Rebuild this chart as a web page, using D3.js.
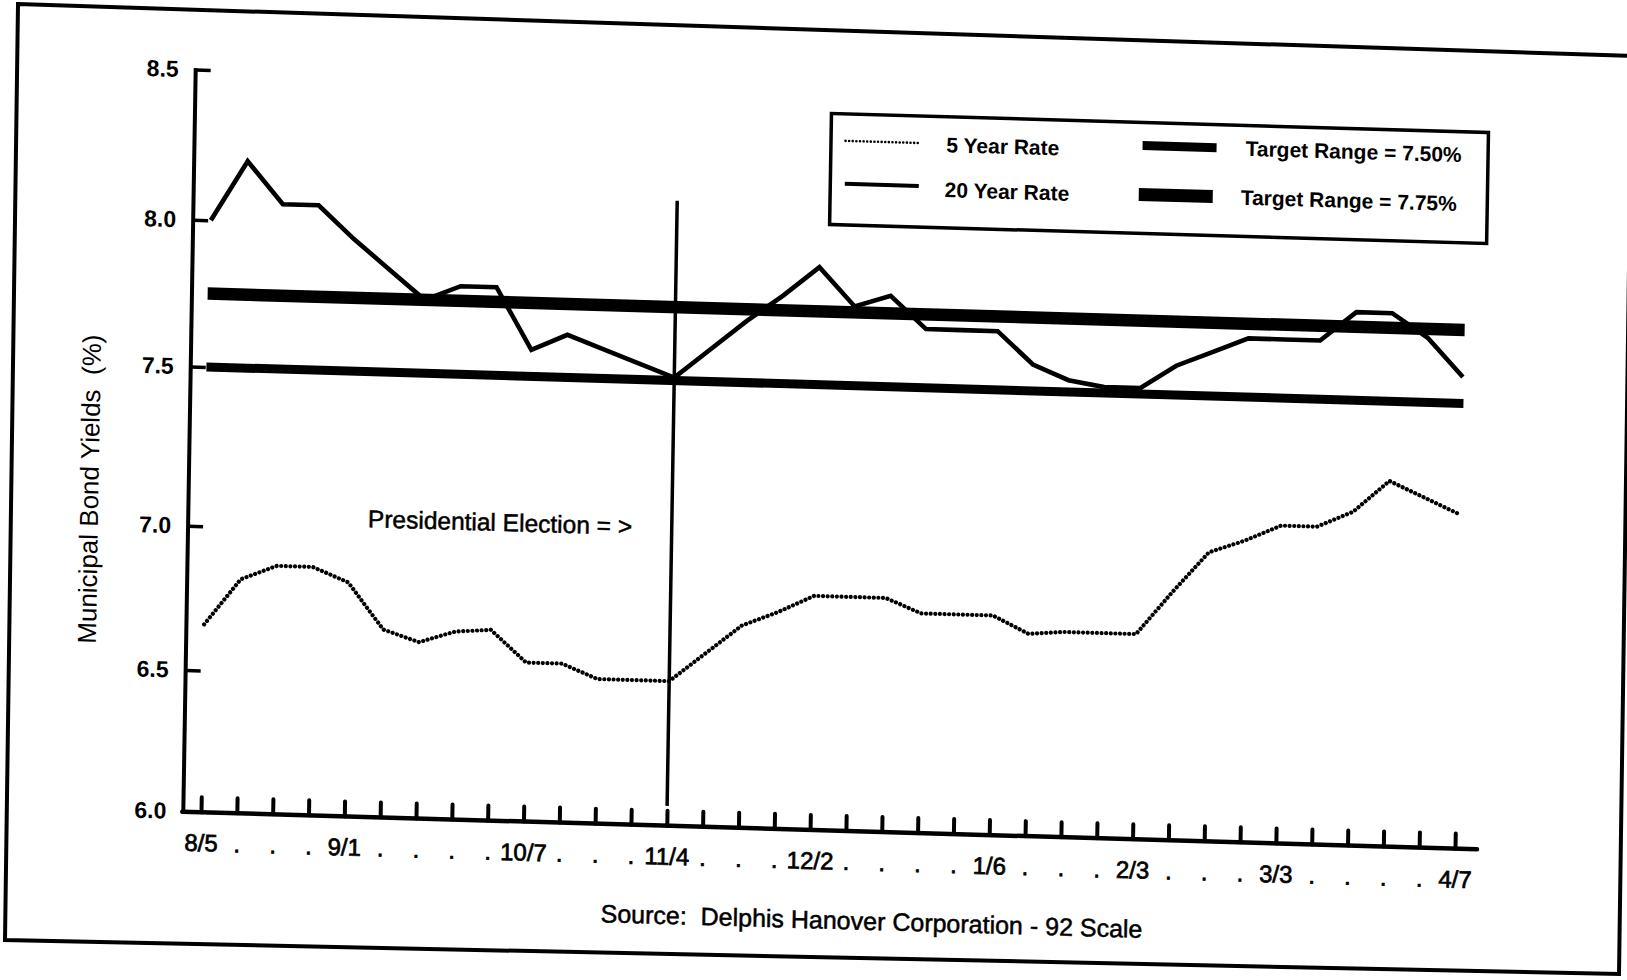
<!DOCTYPE html>
<html>
<head>
<meta charset="utf-8">
<script src="https://cdnjs.cloudflare.com/ajax/libs/d3/7.8.5/d3.min.js"></script>
<style>
  html, body { margin: 0; padding: 0; background: #fff; }
  svg { display: block; }
  text { font-family: "Liberation Sans", Arial, Helvetica, sans-serif; fill: #000; white-space: pre; }
</style>
</head>
<body>
<svg id="chart" width="1627" height="980"></svg>
<script>
// Weekly observations, 8/5 through 4/7 (dots mark the unlabeled weeks)
const weekLabels = ["8/5", ".", ".", ".", "9/1", ".", ".", ".", ".", "10/7", ".", ".", ".", "11/4",
  ".", ".", ".", "12/2", ".", ".", ".", ".", "1/6", ".", ".", ".", "2/3", ".", ".", ".", "3/3",
  ".", ".", ".", ".", "4/7"];

// Municipal bond yields (%)
const rate5 = [6.66, 6.82, 6.87, 6.87, 6.82, 6.66, 6.62, 6.66, 6.67, 6.56, 6.56, 6.51, 6.51, 6.51,
  6.61, 6.71, 6.76, 6.82, 6.82, 6.82, 6.77, 6.77, 6.77, 6.71, 6.72, 6.72, 6.72, 6.87, 7.01, 7.05,
  7.10, 7.10, 7.15, 7.25, 7.20, 7.15];
const rate20 = [8.00, 8.20, 8.06, 8.06, 7.95, 7.85, 7.75, 7.80, 7.80, 7.59, 7.645, 7.60, 7.555, 7.51,
  7.61, 7.71, 7.80, 7.90, 7.77, 7.81, 7.70, 7.70, 7.70, 7.59, 7.54, 7.52, 7.52, 7.60, 7.65, 7.70,
  7.70, 7.70, 7.80, 7.80, 7.72, 7.59];

// Target range levels
const targets = [7.50, 7.75];

// Printed y-axis values
const yTicks = [6.0, 6.5, 7.0, 7.5, 8.0, 8.5];

// Week of the presidential election
const electionWeek = 13;

const legendRows = [
  { label: "5 Year Rate", kind: "r5" },
  { label: "20 Year Rate", kind: "r20" },
  { label: "Target Range = 7.50%", kind: "t750" },
  { label: "Target Range = 7.75%", kind: "t775" }
];

const svg = d3.select("#chart");

// page border
svg.append("polygon")
  .attr("points", "18,4 1632,56 1619,974 5,940")
  .attr("fill", "none").attr("stroke", "#000").attr("stroke-width", 4)
  .attr("stroke-linejoin", "miter");

// the whole sheet sits slightly skewed on the page
const SKEW_X = -0.0167, SKEW_Y = 0.029, ORIGIN = [183.3, 811.7];
const g = svg.append("g")
  .attr("transform", `matrix(1,${SKEW_Y},${SKEW_X},1,${-SKEW_X * ORIGIN[1]},${-SKEW_Y * ORIGIN[0]})`);

const x = d3.scaleLinear().domain([0, weekLabels.length - 1]).range([201, 1455]);
const y = d3.scaleLinear().domain(yTicks).range([811.7, 670, 525.8, 366.5, 219.7, 69.6]);

// target range lines
const targetWidth = { 7.50: 9, 7.75: 12.5 };
g.selectAll("line.target").data(targets).join("line")
  .attr("class", "target")
  .attr("x1", x(0) - 2).attr("x2", x(weekLabels.length - 1) + 1)
  .attr("y1", d => y(d)).attr("y2", d => y(d))
  .attr("stroke", "#000").attr("stroke-width", d => targetWidth[d]);

// election marker
g.append("line")
  .attr("x1", x(electionWeek)).attr("x2", x(electionWeek))
  .attr("y1", y(8.11)).attr("y2", y(6.07))
  .attr("stroke", "#000").attr("stroke-width", 3.5);

const line = d3.line().x((d, i) => x(i)).y(d => y(d));

g.append("path").datum(rate20)
  .attr("d", line)
  .attr("fill", "none").attr("stroke", "#000").attr("stroke-width", 4.6)
  .attr("stroke-linejoin", "miter");

g.append("path").datum(rate5)
  .attr("d", line)
  .attr("fill", "none").attr("stroke", "#000").attr("stroke-width", 4.2)
  .attr("stroke-linecap", "round").attr("stroke-dasharray", "0.01 4.6");

// x axis
const xAxis = d3.axisBottom(x)
  .tickValues(d3.range(weekLabels.length))
  .tickFormat(i => weekLabels[i])
  .tickSize(-15).tickSizeOuter(0).tickPadding(22);
const gx = g.append("g").attr("transform", `translate(0,${y(6.0)})`).call(xAxis);
gx.select(".domain").remove();
gx.selectAll(".tick line").attr("stroke", "#000").attr("stroke-width", 4).attr("stroke-linecap", "round");
gx.selectAll(".tick text")
  .attr("font-size", 24)
  .attr("font-family", "'Liberation Sans', Arial, sans-serif")
  .attr("stroke", "#000").attr("stroke-width", 0.7);
g.append("line")
  .attr("x1", ORIGIN[0] - 1).attr("x2", 1477).attr("y1", y(6.0)).attr("y2", y(6.0))
  .attr("stroke", "#000").attr("stroke-width", 4.5).attr("stroke-linecap", "round");

// y axis
const yAxis = d3.axisLeft(y)
  .tickValues(yTicks.slice(1))
  .tickFormat(d3.format(".1f"))
  .tickSize(-15).tickSizeOuter(0).tickPadding(17);
const gy = g.append("g").attr("transform", `translate(${ORIGIN[0]},0)`).call(yAxis);
gy.select(".domain").remove();
gy.selectAll(".tick line").attr("stroke", "#000").attr("stroke-width", 3.5);
gy.selectAll(".tick text")
  .attr("font-size", 23).attr("font-weight", "bold")
  .attr("font-family", "'Liberation Sans', Arial, sans-serif");
// 6.0 sits on the x axis itself
g.append("text")
  .attr("x", ORIGIN[0] - 17).attr("y", y(6.0)).attr("dy", "0.32em")
  .attr("text-anchor", "end").attr("font-size", 23).attr("font-weight", "bold")
  .text(d3.format(".1f")(yTicks[0]));
g.append("line")
  .attr("x1", ORIGIN[0]).attr("x2", ORIGIN[0]).attr("y1", y(8.5) - 1.5).attr("y2", y(6.0) + 2)
  .attr("stroke", "#000").attr("stroke-width", 4);

// axis title
g.append("text")
  .attr("transform", "translate(84,492) rotate(-90)")
  .attr("text-anchor", "middle").attr("dy", "0.35em")
  .attr("font-size", 26)
  .text("Municipal Bond Yields  (%)");

// annotation
g.append("text")
  .attr("x", 363).attr("y", 522)
  .attr("font-size", 24.5)
  .attr("stroke", "#000").attr("stroke-width", 0.5)
  .text("Presidential Election = >");

// source line
g.append("text")
  .attr("x", 873).attr("y", 910)
  .attr("text-anchor", "middle")
  .attr("font-size", 25)
  .attr("stroke", "#000").attr("stroke-width", 0.5)
  .text("Source:  Delphis Hanover Corporation - 92 Scale");

// legend
const lg = g.append("g");
lg.append("rect")
  .attr("x", 819.5).attr("y", 95).attr("width", 657).attr("height", 111)
  .attr("fill", "#fff").attr("stroke", "#000").attr("stroke-width", 3.5);

const legendPos = {
  r5:   { sx: 834,  sy: 122, tx: 935,  ty: 123 },
  r20:  { sx: 834,  sy: 165, tx: 934,  ty: 168 },
  t750: { sx: 1131, sy: 118, tx: 1234, ty: 118 },
  t775: { sx: 1128, sy: 167, tx: 1230, ty: 167 }
};
const legendStroke = {
  r5:   { w: 2.6, dash: "0.01 3.6", cap: "round" },
  r20:  { w: 4, dash: null, cap: "butt" },
  t750: { w: 9, dash: null, cap: "butt" },
  t775: { w: 13, dash: null, cap: "butt" }
};
const items = lg.selectAll("g.item").data(legendRows).join("g").attr("class", "item");
items.append("line")
  .attr("x1", d => legendPos[d.kind].sx).attr("x2", d => legendPos[d.kind].sx + 74)
  .attr("y1", d => legendPos[d.kind].sy).attr("y2", d => legendPos[d.kind].sy)
  .attr("stroke", "#000")
  .attr("stroke-width", d => legendStroke[d.kind].w)
  .attr("stroke-linecap", d => legendStroke[d.kind].cap)
  .attr("stroke-dasharray", d => legendStroke[d.kind].dash);
items.append("text")
  .attr("x", d => legendPos[d.kind].tx).attr("y", d => legendPos[d.kind].ty)
  .attr("dy", "0.35em")
  .attr("font-size", 21).attr("font-weight", "bold")
  .text(d => d.label);
</script>
</body>
</html>
